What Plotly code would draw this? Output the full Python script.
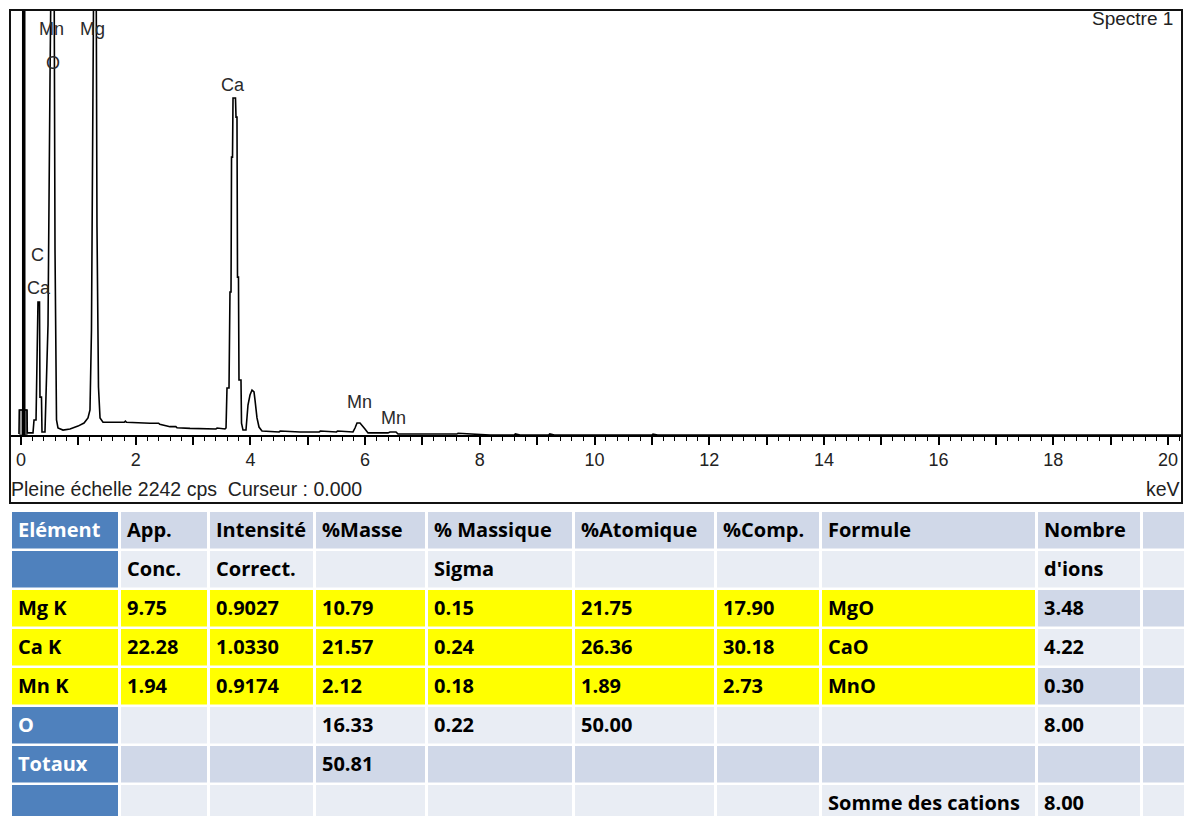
import plotly.graph_objects as go

# ---------------- data ----------------
full_scale_cps = 2242
energy_kev = [-0.035, -0.03, 0.105, 0.11, 0.209, 0.227, 0.262, 0.279, 0.296, 0.323, 0.331, 0.357,
              0.366, 0.418, 0.436, 0.471, 0.506, 0.532, 0.575, 0.593, 0.619, 0.645, 0.732, 0.854,
              0.994, 1.099, 1.168, 1.203, 1.229, 1.255, 1.273, 1.308, 1.325, 1.351, 1.378, 1.43,
              1.80, 1.82, 1.84, 2.249, 2.40, 2.42, 2.598, 2.70, 2.72, 2.947, 3.173, 3.40, 3.42,
              3.557, 3.575, 3.592, 3.627, 3.644, 3.662, 3.671, 3.688, 3.697, 3.740, 3.749, 3.766,
              3.775, 3.792, 3.801, 3.836, 3.845, 3.871, 3.923, 3.958, 3.993, 4.028, 4.063, 4.080,
              4.115, 4.150, 4.202, 4.50, 4.52, 4.865, 5.20, 5.22, 5.50, 5.52, 5.789, 5.824, 5.859,
              5.911, 5.963, 5.998, 6.051, 6.399, 6.434, 6.539, 6.574, 7.60, 7.62, 8.003, 8.178,
              8.60, 8.62, 8.70, 9.20, 9.22, 9.30, 11.0, 11.02, 11.1, 20.3]
counts_cps = [5, 132, 132, 11, 11, 79, 79, 517, 702, 702, 200, 200,
              16, 16, 185, 580, 1883, 2700, 2700, 976, 79, 37, 26, 32,
              47, 63, 90, 132, 554, 1809, 2700, 2700, 1097, 253, 90, 67,
              67, 73, 67, 62, 62, 56, 44, 44, 38, 35, 32, 32, 37,
              32, 37, 248, 248, 754, 754, 1466, 1466, 1778, 1778, 1677, 1677,
              833, 833, 290, 290, 63, 26, 26, 158, 211, 237, 227, 185,
              90, 42, 21, 16, 21, 16, 16, 21, 16, 21, 16, 37, 63,
              63, 47, 32, 11, 11, 16, 16, 5, 5, 9, 5, 0,
              0, 6, 0, 0, 6, 0, 0, 5, 0, 0]
zero_peak_kev = [0.017, 0.07, 0.07, 0.017]
zero_peak_cps = [0, 0, 2700, 2700]
zero_base_kev = [-0.03, 0.105, 0.105, -0.03]
zero_base_cps = [0, 0, 132, 132]

peak_labels = ["Mn", "O", "Mg", "Ca", "C", "Ca", "Mn", "Mn"]
peak_label_kev = [0.54, 0.56, 1.25, 3.70, 0.28, 0.31, 5.91, 6.49]
peak_label_cps = [2140, 1965, 2140, 1845, 950, 775, 174, 90]

tick_values = list(range(0, 21))
tick_labels = [str(v) if v % 2 == 0 else "" for v in tick_values]

spectrum_title = "Spectre 1"
footer_left = "Pleine échelle 2242 cps  Curseur : 0.000"
footer_right = "keV"

table_rows = [
    ["Elément", "App.", "Intensité", "%Masse", "% Massique", "%Atomique", "%Comp.", "Formule", "Nombre", ""],
    ["", "Conc.", "Correct.", "", "Sigma", "", "", "", "d'ions", ""],
    ["Mg K", "9.75", "0.9027", "10.79", "0.15", "21.75", "17.90", "MgO", "3.48", ""],
    ["Ca K", "22.28", "1.0330", "21.57", "0.24", "26.36", "30.18", "CaO", "4.22", ""],
    ["Mn K", "1.94", "0.9174", "2.12", "0.18", "1.89", "2.73", "MnO", "0.30", ""],
    ["O", "", "", "16.33", "0.22", "50.00", "", "", "8.00", ""],
    ["Totaux", "", "", "50.81", "", "", "", "", "", ""],
    ["", "", "", "", "", "", "", "Somme des cations", "8.00", ""],
]
highlight_rows = [2, 3, 4]
highlight_cols = [0, 1, 2, 3, 4, 5, 6, 7]

# ---------------- layout helpers ----------------
W, H = 1184, 816
def fx(p):
    return p / W
def fy(p):
    return 1 - p / H

BOX_L, BOX_R, BOX_T, BOX_B = 10, 1182, 10, 503
AXIS_Y = 435
KEV0_PX, KEV20_PX = 21, 1168
px_per_kev = (KEV20_PX - KEV0_PX) / 20.0
x_range = [(BOX_L - KEV0_PX) / px_per_kev, (BOX_R - KEV0_PX) / px_per_kev]

fig = go.Figure()
fig.add_trace(go.Scatter(x=zero_base_kev, y=zero_base_cps, fill="toself", mode="lines",
                         fillcolor="#9a9a9a", line=dict(color="#444", width=1), hoverinfo="skip"))
fig.add_trace(go.Scatter(x=energy_kev, y=counts_cps, mode="lines",
                         line=dict(color="#000000", width=1.6), hoverinfo="skip"))
fig.add_trace(go.Scatter(x=zero_peak_kev, y=zero_peak_cps, fill="toself", mode="lines",
                         fillcolor="#000000", line=dict(color="#000", width=1), hoverinfo="skip"))

label_font = dict(family="Liberation Sans, Arial, sans-serif", size=18, color="#2a2a2a")
for t, xv, yv in zip(peak_labels, peak_label_kev, peak_label_cps):
    fig.add_annotation(x=xv, y=yv, xref="x", yref="y", text=t, showarrow=False,
                       font=label_font, xanchor="center", yanchor="middle")

fig.update_xaxes(domain=[fx(BOX_L), fx(BOX_R)], range=x_range, showgrid=False, zeroline=False,
                 showline=True, linecolor="#000", linewidth=1.5,
                 ticks="outside", ticklen=8, tickwidth=1.5, tickcolor="#000",
                 tickvals=tick_values, ticktext=tick_labels,
                 tickfont=dict(family="Liberation Sans, Arial, sans-serif", size=18, color="#222"),
                 minor=dict(dtick=0.2, ticks="outside", ticklen=4, tickwidth=1.2, tickcolor="#000"),
                 fixedrange=True)
fig.update_yaxes(domain=[fy(AXIS_Y), fy(BOX_T)], range=[0, full_scale_cps], visible=False,
                 showgrid=False, zeroline=False, fixedrange=True)

shapes = [dict(type="rect", xref="paper", yref="paper", x0=fx(BOX_L), x1=fx(BOX_R),
               y0=fy(BOX_B), y1=fy(BOX_T), line=dict(color="#111", width=2), layer="above")]
annos = []
text_font = dict(family="Liberation Sans, Arial, sans-serif", size=19.5, color="#222")
annos.append(dict(x=fx(1175), y=fy(18), xref="paper", yref="paper", text=spectrum_title,
                  showarrow=False, xanchor="right", yanchor="middle",
                  font=dict(family="Liberation Sans, Arial, sans-serif", size=19, color="#222")))
annos.append(dict(x=fx(9), y=fy(489), xref="paper", yref="paper", text=footer_left,
                  showarrow=False, xanchor="left", yanchor="middle", font=text_font))
annos.append(dict(x=fx(1182), y=fy(489), xref="paper", yref="paper", text=footer_right,
                  showarrow=False, xanchor="right", yanchor="middle", font=text_font))

# ---------------- table ----------------
col_edges = [(12, 118), (121, 207), (210, 313), (316, 425), (428, 572), (575, 714),
             (717, 819), (822, 1035), (1038, 1140), (1143, 1190)]
ROW_TOP0, ROW_PITCH, ROW_H = 512, 39, 36.5
BLUE, DARK, LIGHT, YELLOW = "#4F81BD", "#D0D8E8", "#E9EDF4", "#FFFF00"
tfont_family = "Open Sans, Lato, sans-serif"
for r, row in enumerate(table_rows):
    top = ROW_TOP0 + r * ROW_PITCH
    for c, val in enumerate(row):
        x0, x1 = col_edges[c]
        if r in highlight_rows and c in highlight_cols:
            fill, fc = YELLOW, "#000"
        elif c == 0:
            fill, fc = BLUE, "#FFFFFF"
        else:
            fill, fc = (DARK if r % 2 == 0 else LIGHT), "#000"
        shapes.append(dict(type="rect", xref="paper", yref="paper", x0=fx(x0), x1=fx(x1),
                           y0=fy(top + ROW_H), y1=fy(top), fillcolor=fill, line=dict(width=0),
                           layer="below"))
        if val:
            annos.append(dict(x=fx(x0 + 4), y=fy(top + ROW_H / 2 - 1), xref="paper", yref="paper",
                              text="<b>" + val + "</b>", showarrow=False, xanchor="left",
                              yanchor="middle",
                              font=dict(family=tfont_family, size=20, color=fc)))

fig.update_layout(width=W, height=H, autosize=False, margin=dict(l=0, r=0, t=0, b=0),
                  paper_bgcolor="white", plot_bgcolor="white", showlegend=False,
                  shapes=shapes, annotations=list(fig.layout.annotations) + annos)

fig.write_html("out.html", config={"displayModeBar": False},
               post_script="document.body.style.margin='0px';document.body.style.overflow='hidden';")
